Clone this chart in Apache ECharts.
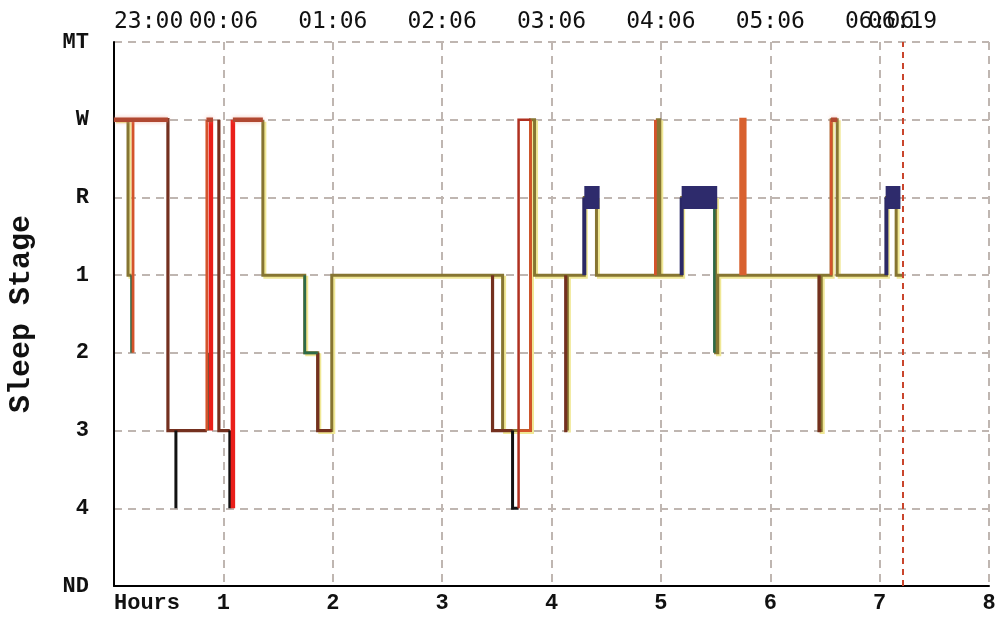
<!DOCTYPE html>
<html><head><meta charset="utf-8">
<script src="https://cdn.jsdelivr.net/npm/echarts@6/dist/echarts.min.js"></script>
<style>html,body{margin:0;padding:0;background:#fff}#c{width:997px;height:622px}</style>
</head><body><div id="c"></div>
<script>
// Stage categories (value index: ND=0 ... MT=7)
const stageLabels = ['ND','4','3','2','1','R','W','MT'];
const bottomLabels = ['Hours','1','2','3','4','5','6','7','8'];
const topLabels = ['23:00','00:06','01:06','02:06','03:06','04:06','05:06','06:06',''];
const endHour = 7.205;
const endLabel = '06:19';

// Each run: list of [hour, stage] transitions (drawn as steps)
const oliveRuns = [
  [[0,'W'],[0.128,'1'],[0.16,'1']],
  [[1.361,'W'],[1.361,'1'],[1.744,'2'],[1.863,'3'],[1.991,'1'],[3.553,'3'],[3.808,'W'],[3.845,'1'],[4.30,'R'],[4.411,'1'],[4.968,'W'],[4.99,'1'],[5.19,'R'],[5.50,'2'],[5.52,'1'],[6.447,'3'],[6.466,'1'],[6.557,'W'],[6.612,'1'],[7.062,'R'],[7.151,'1'],[7.205,'1']],
  [[4.145,'3'],[4.145,'1']]
];
const brownRuns = [
  [[0,'W'],[0.493,'3'],[0.849,'3']],
  [[0.959,'W'],[0.959,'3'],[1.059,'3']],
  [[1.863,'2'],[1.863,'3'],[1.991,'3']],
  [[3.461,'1'],[3.461,'3'],[3.644,'3']],
  [[4.13,'1'],[4.13,'3'],[4.145,'3']],
  [[6.447,'1'],[6.447,'3'],[6.466,'3']]
];
const blackRuns = [
  [[0.566,'3'],[0.566,'4']],
  [[1.059,'3'],[1.059,'4']],
  [[3.644,'3'],[3.644,'4'],[3.699,'4']]
];
const greenRuns = [
  [[0.16,'1'],[0.16,'2']],
  [[0.858,'2'],[0.858,'3']],
  [[1.744,'1'],[1.744,'2'],[1.863,'2']],
  [[5.489,'R'],[5.489,'2']]
];
const orangeRuns = [
  [[0.174,'W'],[0.174,'2']],
  [[0.849,'W'],[0.849,'3']],
  [[3.699,'3'],[3.808,'3'],[3.808,'W']],
  [[4.95,'W'],[4.95,'1']],
  [[6.557,'1'],[6.557,'W']]
];
const orangeWideRuns = [
  [[5.735,'1'],[5.735,'W'],[5.765,'W'],[5.765,'1']]
];
const redRuns = [
  [[0.886,'W'],[0.886,'3']],
  [[1.087,'W'],[1.087,'4']]
];
const redThinRuns = [
  [[3.699,'4'],[3.699,'W'],[3.808,'W']]
];
const wakeTopRuns = [
  [[0,'W'],[0.493,'W']],
  [[0.845,'W'],[0.905,'W']],
  [[1.087,'W'],[1.361,'W']],
  [[6.555,'W'],[6.612,'W']]
];
const navyRuns = [
  [[4.30,'1'],[4.30,'R']],
  [[5.19,'1'],[5.19,'R']],
  [[7.062,'1'],[7.062,'R']]
];
const navyBandRuns = [
  [[4.30,'R'],[4.44,'R']],
  [[5.19,'R'],[5.515,'R']],
  [[7.055,'R'],[7.19,'R']]
];

const sv = s => stageLabels.indexOf(s);
function stepPoints(run){
  const pts = [];
  run.forEach(([t,s],i)=>{
    if(i>0) pts.push([t, sv(run[i-1][1])]);
    pts.push([t, sv(s)]);
  });
  return pts;
}
const series = [];
function addRuns(runs, style){
  runs.forEach(r=>{
    series.push({type:'line', data: stepPoints(r), symbol:'none', showSymbol:false,
      animation:false, silent:true, xAxisIndex:0, yAxisIndex:0,
      lineStyle: Object.assign({cap:'butt', join:'miter'}, style)});
  });
}
addRuns(oliveRuns, {color:'#867532', width:3, shadowColor:'#F0E896', shadowOffsetX:2, shadowOffsetY:2, shadowBlur:0});
addRuns(brownRuns, {color:'#74301F', width:3.2});
addRuns(blackRuns, {color:'#121212', width:3});
addRuns(greenRuns, {color:'#2D6A47', width:2.6});
addRuns(orangeRuns, {color:'#D4532B', width:2.8});
addRuns(orangeWideRuns, {color:'#D8612F', width:4});
addRuns(redRuns, {color:'#EA1F1A', width:4.5});
addRuns(redThinRuns, {color:'#B03020', width:2.5});
addRuns(wakeTopRuns, {color:'#B04831', width:4.5, shadowColor:'rgba(235,140,120,0.55)', shadowBlur:4});
addRuns(navyRuns, {color:'#2B2966', width:4});
addRuns(navyBandRuns, {color:'#2E2B6C', width:23});

// end-of-recording marker
series.push({type:'line', data:[], symbol:'none', animation:false, silent:true,
  markLine:{symbol:'none', silent:true, animation:false,
    lineStyle:{color:'#C9452C', type:[6,5], width:2},
    label:{show:true, position:'end', formatter:endLabel, distance:8,
      color:'#111', fontFamily:'DejaVu Sans Mono', fontSize:23},
    data:[{xAxis:endHour}]}});

const gridLine = {show:true, lineStyle:{color:'#BFB6B1', type:[8,6], width:2}};
const chart = echarts.init(document.getElementById('c'), null, {renderer:'canvas'});
chart.setOption({
  backgroundColor:'#fff',
  animation:false,
  grid:{left:114, right:8, top:42, bottom:36, outerBoundsMode:'none', containLabel:false},
  xAxis:[
    {type:'value', min:0, max:8, interval:1, position:'bottom',
     axisLine:{show:true, lineStyle:{color:'#000', width:2}},
     axisTick:{show:false},
     splitLine:gridLine,
     axisLabel:{formatter:v=>bottomLabels[v], alignMinLabel:'left', margin:6,
       color:'#111', fontFamily:'Liberation Mono', fontWeight:'bold', fontSize:22}},
    {type:'value', min:0, max:8, interval:1, position:'top',
     axisLine:{show:false}, axisTick:{show:false}, splitLine:{show:false},
     axisLabel:{formatter:v=>topLabels[v], alignMinLabel:'left', margin:8,
       color:'#111', fontFamily:'DejaVu Sans Mono', fontSize:23}}
  ],
  yAxis:{type:'value', min:0, max:7, interval:1,
    axisLine:{show:true, lineStyle:{color:'#000', width:2}},
    axisTick:{show:false},
    splitLine:gridLine,
    axisLabel:{formatter:v=>stageLabels[v], margin:25, color:'#111',
      fontFamily:'Liberation Mono', fontWeight:'bold', fontSize:22},
    name:'Sleep Stage', nameLocation:'middle', nameRotate:90, nameGap:78,
    nameTextStyle:{color:'#111', fontFamily:'Liberation Mono', fontWeight:'bold', fontSize:30}
  },
  series: series
});
</script></body></html>
